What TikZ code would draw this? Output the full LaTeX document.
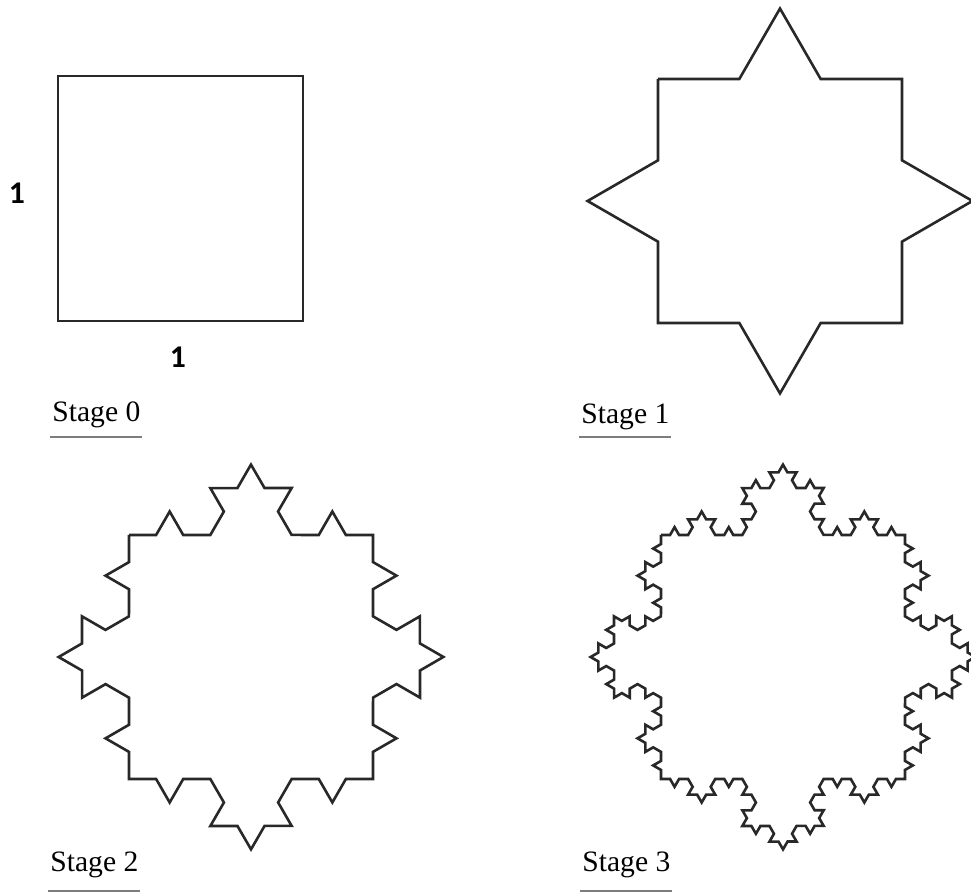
\documentclass[tikz,border=0pt]{standalone}
\usepackage{fontspec}
\setmainfont{Liberation Serif}
\newfontfamily\labelfont{Carlito}
\usetikzlibrary{calc,decorations.fractals}
\definecolor{linegray}{RGB}{40,40,40}
\definecolor{rulegray}{RGB}{125,125,125}

\begin{document}
\begin{tikzpicture}[x=0.5pt, y=0.5pt, line join=miter]
  \tikzstyle{curve} = [draw=linegray, line width=1.3pt, decoration=Koch snowflake]
  \tikzstyle{stagelbl} = [anchor=base west, inner sep=0pt, text=black, font=\fontsize{14.8}{18}\selectfont]
  \tikzstyle{sidelbl} = [inner sep=0pt, font=\labelfont\bfseries\fontsize{15.8}{18}\selectfont]
  \tikzstyle{rule} = [draw=rulegray, line width=1pt]

  \useasboundingbox (0,0) rectangle (971,893);

  % stage 0: the unit square
  \draw[curve] (58,817) rectangle (303,572);
  \node[sidelbl] (one_left) at (17,700) {1};
  \node[sidelbl] (one_below) at (178,536) {1};
  \node[stagelbl] (stage0) at (52,471) {Stage 0};
  \draw[rule] ($(stage0.base west)+(-2,-15)$) -- ($(stage0.base east)+(1,-15)$);

  % stage 1
  \draw[curve] decorate{(658,814) -- (902,814) -- (902,570) -- (658,570) -- cycle};
  \node[stagelbl] (stage1) at (581,469) {Stage 1};
  \draw[rule] ($(stage1.base west)+(-2,-13)$) -- ($(stage1.base east)+(1,-13)$);

  % stage 2
  \draw[curve] decorate{decorate{(129,358) -- (373,358) -- (373,114) -- (129,114) -- cycle}};
  \node[stagelbl] (stage2) at (50,21) {Stage 2};
  \draw[rule] ($(stage2.base west)+(-2,-19)$) -- ($(stage2.base east)+(1,-19)$);

  % stage 3
  \draw[curve] decorate{decorate{decorate{(661,358) -- (905,358) -- (905,114) -- (661,114) -- cycle}}};
  \node[stagelbl] (stage3) at (582,21) {Stage 3};
  \draw[rule] ($(stage3.base west)+(-2,-19)$) -- ($(stage3.base east)+(1,-19)$);
\end{tikzpicture}
\end{document}
